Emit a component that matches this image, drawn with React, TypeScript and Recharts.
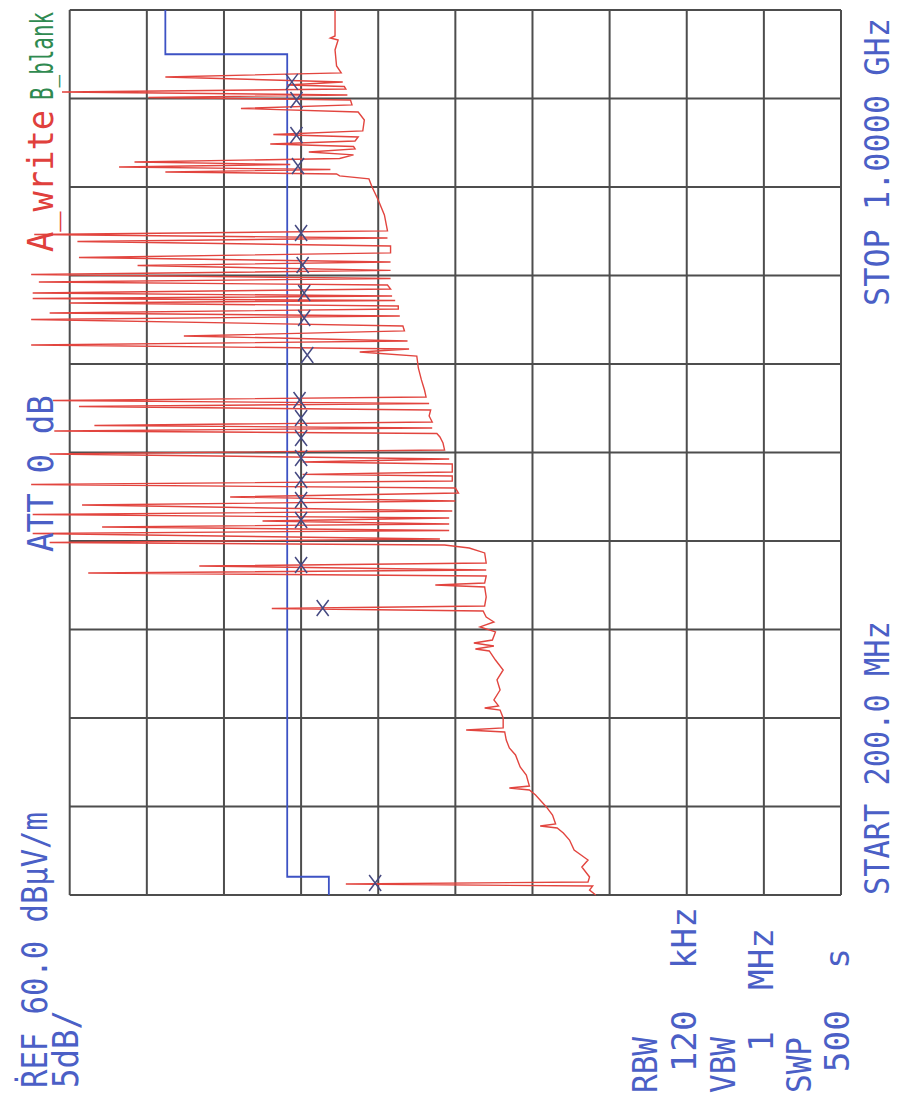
import { ComposedChart, Line, Scatter, XAxis, YAxis, ReferenceLine } from "recharts";

// EMI sweep 200 MHz .. 1 GHz, level in dBuV/m (REF 60, 5 dB/div)
const traceMHz = [
  200.0, 204.5, 208.1, 209.9, 211.8, 216.3, 225.3, 231.6, 240.7, 249.7,
  256.0, 260.6, 262.4, 264.2, 272.3, 279.6, 290.4, 294.9, 296.7, 298.5,
  308.5, 315.7, 326.6, 332.9, 340.1, 347.4, 349.2, 351.0, 360.0, 367.2,
  369.0, 370.9, 376.3, 385.3, 394.4, 403.4, 412.4, 420.6, 422.4, 425.1,
  427.8, 430.5, 437.8, 442.3, 446.8, 451.3, 456.7, 459.0, 461.3, 469.4,
  478.4, 480.2, 482.0, 488.4, 491.1, 493.8, 497.4, 500.1, 509.2, 513.7,
  516.4, 518.7, 521.8, 526.8, 529.5, 532.7, 535.4, 538.1, 540.8, 544.0,
  547.1, 552.6, 556.2, 559.8, 563.4, 567.9, 571.1, 574.3, 578.8, 580.2,
  582.4, 589.6, 591.4, 594.1, 598.7, 602.3, 608.6, 614.0, 617.2, 619.5,
  622.2, 624.4, 627.6, 633.0, 638.4, 641.6, 644.3, 647.0, 650.2, 656.5,
  665.6, 676.4, 687.2, 690.9, 693.6, 697.2, 700.8, 705.3, 709.9, 714.4,
  720.2, 723.4, 726.1, 729.7, 732.4, 735.2, 737.4, 739.2, 741.5, 744.2,
  747.8, 751.4, 754.1, 757.3, 760.9, 764.6, 769.1, 772.2, 776.3, 780.4,
  786.7, 790.8, 793.9, 797.1, 800.3, 814.7, 828.3, 840.0, 847.3, 850.0,
  851.8, 853.6, 855.8, 858.1, 860.4, 862.6, 865.8, 869.0, 871.7, 874.4,
  876.6, 878.9, 881.6, 885.2, 887.5, 890.7, 900.6, 907.8, 911.0, 914.2,
  918.7, 920.9, 923.2, 925.9, 928.6, 930.8, 932.2, 934.9, 939.5, 943.1,
  949.4, 963.9, 972.9, 974.7, 976.5, 1000,
];
const traceDb = [
  25.9, 26.3, 26.1, 42.1, 26.4, 26.3, 26.8, 26.4, 27.3, 27.6,
  28.0, 28.4, 29.5, 28.5, 28.7, 29.1, 29.8, 30.2, 31.5, 30.2,
  30.4, 30.8, 31.1, 31.5, 31.7, 31.8, 34.3, 31.9, 31.9, 32.1,
  33.1, 32.2, 32.5, 32.1, 32.3, 31.9, 32.4, 32.8, 33.7, 32.5,
  33.8, 32.6, 32.4, 33.4, 32.5, 33.0, 33.2, 46.9, 33.1, 33.0,
  33.1, 36.3, 33.1, 33.0, 58.8, 33.0, 51.6, 33.0, 33.1, 34.1,
  35.7, 61.3, 36.0, 62.4, 35.4, 57.9, 35.4, 47.5, 35.4, 62.4,
  35.2, 59.2, 35.0, 49.6, 34.8, 35.0, 62.5, 35.2, 35.2, 44.9,
  35.2, 35.2, 44.9, 35.4, 61.3, 35.7, 35.8, 36.0, 36.2, 61.0,
  36.5, 58.4, 36.5, 36.7, 36.6, 59.4, 36.7, 61.1, 36.9, 37.0,
  37.2, 37.4, 37.5, 41.2, 38.0, 62.5, 38.1, 52.6, 38.3, 38.4,
  62.5, 38.6, 61.3, 38.7, 38.7, 60.0, 38.9, 62.4, 39.1, 62.4,
  39.2, 39.4, 62.0, 39.2, 62.5, 39.2, 55.6, 39.2, 59.4, 39.2,
  39.2, 59.5, 39.4, 62.3, 39.4, 39.6, 40.0, 40.4, 40.6, 42.5,
  42.7, 53.8, 43.1, 56.8, 45.7, 55.8, 42.5, 41.6, 44.5, 41.5,
  41.6, 47.0, 41.5, 41.3, 46.8, 41.0, 40.9, 41.3, 48.9, 41.7,
  41.8, 54.9, 42.0, 60.5, 42.1, 42.2, 45.9, 42.3, 53.8, 42.4,
  42.7, 42.8, 42.6, 43.1, 42.8, 42.8,
];

// limit line (blue)
const limitMHz = [200, 216.5, 216.5, 960, 960, 1000];
const limitDb = [43.2, 43.2, 45.9, 45.9, 53.8, 53.8];

// X markers
const markerMHz = [
  935.0, 918.7, 887.0, 859.0, 798.4, 769.5, 744.2, 721.6, 688.2, 647.5,
  631.2, 613.1, 595.0, 575.2, 557.1, 539.0, 498.3, 459.4, 210.8,
];
const markerDb = [
  45.6, 45.3, 45.3, 45.2, 45.0, 44.9, 44.8, 44.8, 44.6, 45.1,
  45.0, 45.0, 45.0, 45.0, 45.0, 45.0, 45.0, 43.6, 40.2,
];

const freqTicks = [200, 280, 360, 440, 520, 600, 680, 760, 840, 920, 1000];
const levelTicks = [10, 15, 20, 25, 30, 35, 40, 45, 50, 55, 60];

const trace = traceMHz.map((f, i) => ({ f, a: traceDb[i] }));
const limit = limitMHz.map((f, i) => ({ f, a: limitDb[i] }));
const markers = markerMHz.map((f, i) => ({ f, a: markerDb[i] }));

const BLUE = "#4b5fc6";
const GRID = "#4d4d4d";
const MONO = "'DejaVu Sans Mono', monospace";
const ADVANCE = 0.602; // DejaVu Sans Mono glyph advance per em
const F0 = freqTicks[0];
const F1 = freqTicks[freqTicks.length - 1];
const L0 = levelTicks[0];
const L1 = levelTicks[levelTicks.length - 1];

function Cross(props: any) {
  const { cx, cy } = props;
  return (
    <path
      d={`M${cx - 8},${cy - 6}L${cx + 8},${cy + 6}M${cx - 8},${cy + 6}L${cx + 8},${cy - 6}`}
      stroke="#464a82"
      strokeWidth={1.5}
      fill="none"
    />
  );
}

// plotter lettering is condensed: squeeze the mono font to the wanted length
function Label({ x, y, len, color = BLUE, size = 35, children }: any) {
  const sx = len / (String(children).length * ADVANCE * size);
  return (
    <text
      transform={`translate(${x},${y}) scale(${sx.toFixed(3)},1)`}
      fill={color}
      fontFamily={MONO}
      fontSize={size}
      style={{ whiteSpace: "pre" }}
    >
      {children}
    </text>
  );
}

export default function App() {
  return (
    <div style={{ position: "absolute", left: 0, top: 0, width: 908, height: 1108, overflow: "hidden", background: "#fff" }}>
      {/* plotter output is turned a quarter turn, so draw it upright and rotate */}
      <div
        style={{
          position: "absolute",
          left: 0,
          top: 1108,
          width: 1108,
          height: 908,
          transform: "rotate(-90deg)",
          transformOrigin: "0 0",
        }}
      >
        <ComposedChart width={1108} height={908} margin={{ top: 8, right: 10, bottom: 67, left: 213 }}>
          <XAxis type="number" dataKey="f" domain={[200, 1000]} hide />
          <YAxis type="number" dataKey="a" domain={[10, 64]} hide />
          {freqTicks.map((f) => (
            <ReferenceLine key={`f${f}`} segment={[{ x: f, y: L0 }, { x: f, y: L1 }]} stroke={GRID} strokeWidth={2} />
          ))}
          {levelTicks.map((l) => (
            <ReferenceLine key={`l${l}`} segment={[{ x: F0, y: l }, { x: F1, y: l }]} stroke={GRID} strokeWidth={2} />
          ))}
          <Line data={limit} dataKey="a" type="linear" stroke="#3d52c4" strokeWidth={1.8} dot={false} isAnimationActive={false} />
          <Line data={trace} dataKey="a" type="linear" stroke="#e2453f" strokeWidth={1.4} dot={false} isAnimationActive={false} />
          <Scatter data={markers} dataKey="a" shape={Cross} isAnimationActive={false} />
        </ComposedChart>
        <svg width={1108} height={908} style={{ position: "absolute", left: 0, top: 0, pointerEvents: "none" }}>
          <Label x={20} y={47} len={276}>ṘEF 60.0 dBµV/m</Label>
          <Label x={20} y={78} len={78}>5dB/</Label>
          <Label x={556} y={53} len={157}>ATT 0 dB</Label>
          <Label x={856} y={53} len={142} color="#e0403c">A_write</Label>
          <Label x={1008} y={53} len={88} size={32} color="#2f8a50">B_blank</Label>
          <Label x={15} y={657} len={56} size={33}>RBW</Label>
          <Label x={15} y={696} len={186} size={33}> 120  kHz</Label>
          <Label x={15} y={735} len={56} size={33}>VBW</Label>
          <Label x={15} y={773} len={165} size={33}>  1  MHz</Label>
          <Label x={15} y={811} len={56} size={33}>SWP</Label>
          <Label x={15} y={849} len={145} size={33}> 500  s</Label>
          <Label x={213} y={889} len={274} size={33}>START 200.0 MHz</Label>
          <Label x={802} y={889} len={288} size={33}>STOP 1.0000 GHz</Label>
        </svg>
      </div>
    </div>
  );
}
